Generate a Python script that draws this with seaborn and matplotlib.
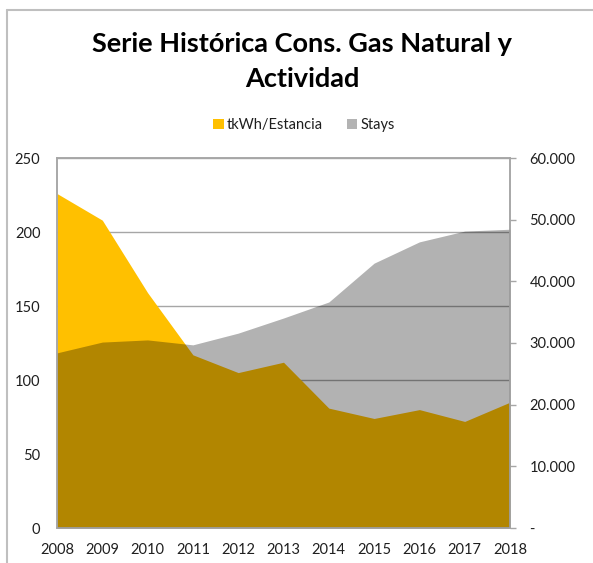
import matplotlib
matplotlib.use("Agg")
import matplotlib.pyplot as plt
import seaborn as sns
import numpy as np
import pandas as pd
from matplotlib.ticker import FuncFormatter
from matplotlib.patches import Patch

years = [2008, 2009, 2010, 2011, 2012, 2013, 2014, 2015, 2016, 2017, 2018]
kwh_per_stay = [226, 208, 159, 117, 105, 112, 81, 74, 80, 72, 85]
stays = [28400, 30150, 30500, 29700, 31600, 34050, 36650, 42950, 46400, 48150, 48450]

left_ticks = [0, 50, 100, 150, 200, 250]
right_ticks = [0, 10000, 20000, 30000, 40000, 50000, 60000]

title_text = "Serie Histórica Cons. Gas Natural y\nActividad"
legend_labels = ["tkWh/Estancia", "Stays"]

df = pd.DataFrame({"year": years, "kwh": kwh_per_stay, "stays": stays})

sns.set_theme(style="white")
plt.rcParams["font.family"] = ["Lato", "DejaVu Sans"]

W, H = 593, 563
fig = plt.figure(figsize=(W / 100, H / 100), dpi=100)
ax = fig.add_axes([57 / W, (H - 528) / H, (510 - 57) / W, (528 - 158) / H])
ax2 = ax.twinx()

YELLOW = "#FFC000"
GRID = "#A6A6A6"
TXT = "#1F1F1F"

# yellow area (left axis)
sns.lineplot(data=df, x="year", y="kwh", ax=ax, color=YELLOW, linewidth=0, legend=False)
ax.fill_between(df["year"], 0, df["kwh"], color=YELLOW, linewidth=0, zorder=2)
# grey translucent area (right axis)
sns.lineplot(data=df, x="year", y="stays", ax=ax2, color="black", linewidth=0, legend=False)
ax2.fill_between(df["year"], 0, df["stays"], color="black", alpha=0.30, linewidth=0, zorder=2)

ax.set_xlim(years[0], years[-1])
ax.set_ylim(0, 250)
ax2.set_ylim(0, 60000)
ax.set_xticks(years)
ax.set_xticklabels([str(y) for y in years])
ax.set_yticks(left_ticks)
ax2.set_yticks(right_ticks)
ax2.yaxis.set_major_formatter(FuncFormatter(lambda v, p: "-" if v == 0 else f"{int(v):,}".replace(",", ".")))
ax.set_xlabel("")
ax.set_ylabel("")
ax2.set_ylabel("")

ax.set_axisbelow(True)
ax.grid(axis="y", color=GRID, linewidth=1.0, zorder=0)
ax.grid(axis="x", visible=False)
ax2.grid(False)

for a in (ax, ax2):
    for s in a.spines.values():
        s.set_color(GRID)
        s.set_linewidth(1.1)
        s.set_zorder(5)

ax.tick_params(axis="y", length=0, pad=12, labelsize=10.5, labelcolor=TXT)
ax.tick_params(axis="x", length=0, pad=11, labelsize=10.5, labelcolor=TXT)
ax2.tick_params(axis="y", length=4, width=1, color=GRID, pad=10, labelsize=10.5, labelcolor=TXT, direction="out")

fig.text(302 / W, 1 - 61 / H, title_text, ha="center", va="center", fontsize=19.5,
         fontweight="bold", color="black", linespacing=1.55)

# legend
handles = [Patch(facecolor=YELLOW, edgecolor="none"), Patch(facecolor="#B3B3B3", edgecolor="none")]
fig.legend(handles, legend_labels, loc="center", bbox_to_anchor=(304 / W, 1 - 125 / H), ncol=2,
           frameon=False, fontsize=10.5, handlelength=0.75, handleheight=0.75, handletextpad=0.2,
           columnspacing=1.6, labelcolor=TXT)

# outer frame lines (left and top)
fig.add_artist(plt.Line2D([7 / W, 7 / W], [0, 1 - 10 / H], color="#BFBFBF", linewidth=1.5, transform=fig.transFigure))
fig.add_artist(plt.Line2D([7 / W, 1], [1 - 10 / H, 1 - 10 / H], color="#BFBFBF", linewidth=1.5, transform=fig.transFigure))

fig.savefig("out.png", dpi=100, facecolor="white")
